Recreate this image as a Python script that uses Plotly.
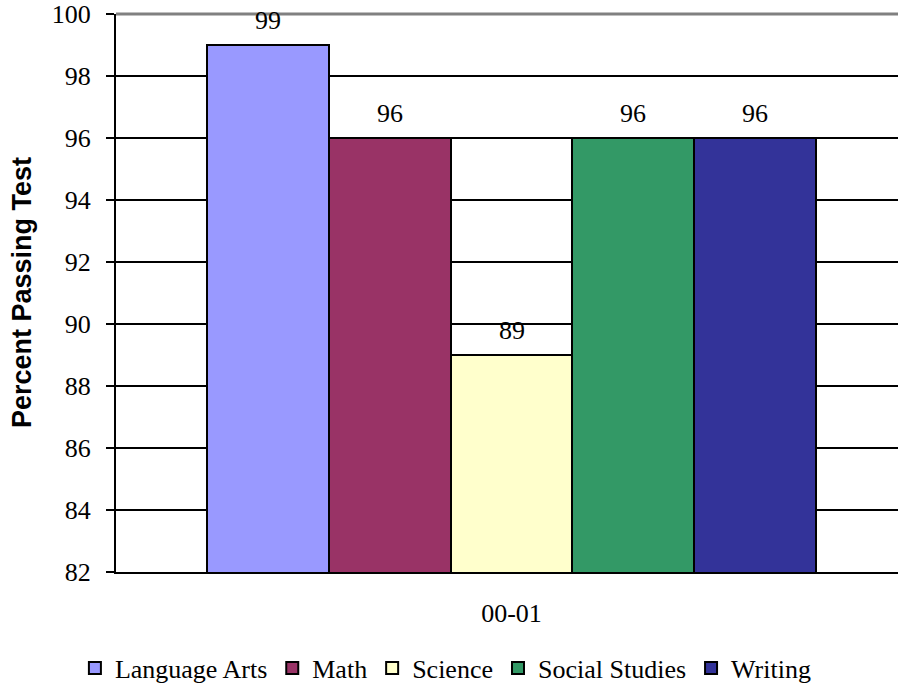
import plotly.graph_objects as go

categories = ["00-01"]
subjects = ["Language Arts", "Math", "Science", "Social Studies", "Writing"]
values = [99, 96, 89, 96, 96]
colors = ["#9999FF", "#993366", "#FFFFCC", "#339966", "#333399"]

SERIF = "Liberation Serif"
SANS = "Liberation Sans"
FS = 26

fig = go.Figure()
for i, (name, val, col) in enumerate(zip(subjects, values, colors)):
    fig.add_trace(go.Bar(
        x=[i], y=[val], name=name, width=1,
        marker=dict(color=col, line=dict(color="black", width=2)),
        hoverinfo="name+y",
    ))
    fig.add_annotation(x=i, y=val, text=str(val), showarrow=False,
                       yanchor="middle", yshift=25,
                       font=dict(family=SERIF, size=FS, color="black"))

center = (len(subjects) - 1) / 2
fig.update_layout(
    width=898, height=688,
    margin=dict(l=116, r=0, t=14, b=116),
    plot_bgcolor="white", paper_bgcolor="white",
    showlegend=True,
    bargap=0,
    font=dict(family=SERIF, size=FS, color="black"),
    legend=dict(orientation="h", xref="container", yref="container",
                x=0.496, xanchor="center", y=0.029, yanchor="middle",
                font=dict(family=SERIF, size=FS, color="black"),
                itemwidth=30, tracegroupgap=0, itemclick=False),
    xaxis=dict(range=[-1.247, 5.173], tickvals=[center], ticktext=categories,
               showgrid=False, zeroline=False, showline=True, linecolor="black",
               linewidth=2, ticks="", ticklabelstandoff=17,
               tickfont=dict(family=SERIF, size=FS, color="black")),
    yaxis=dict(range=[82, 100], dtick=2, tick0=82, showgrid=True, gridcolor="black",
               gridwidth=2, zeroline=False, showline=True, linecolor="black",
               linewidth=2, ticks="outside", ticklen=8, tickwidth=2, tickcolor="black",
               ticklabelstandoff=10,
               tickfont=dict(family=SERIF, size=FS, color="black")),
)

fig.add_shape(type="line", xref="paper", yref="paper", x0=0, x1=1, y0=1, y1=1,
              line=dict(color="#808080", width=3), layer="above")
fig.add_shape(type="line", xref="paper", yref="y", x0=0, x1=0, y0=82, y1=81.74,
              line=dict(color="black", width=2), layer="above")

fig.add_annotation(xref="paper", yref="paper", x=(22 - 116) / 782, y=0.5,
                   text="<b>Percent Passing Test</b>", textangle=-90, showarrow=False,
                   xanchor="center", yanchor="middle",
                   font=dict(family=SANS, size=27, color="black"))

fig.write_html("out.html", config={"displayModeBar": False},
               post_script="document.body.style.margin='0';document.documentElement.style.overflow='hidden';")
